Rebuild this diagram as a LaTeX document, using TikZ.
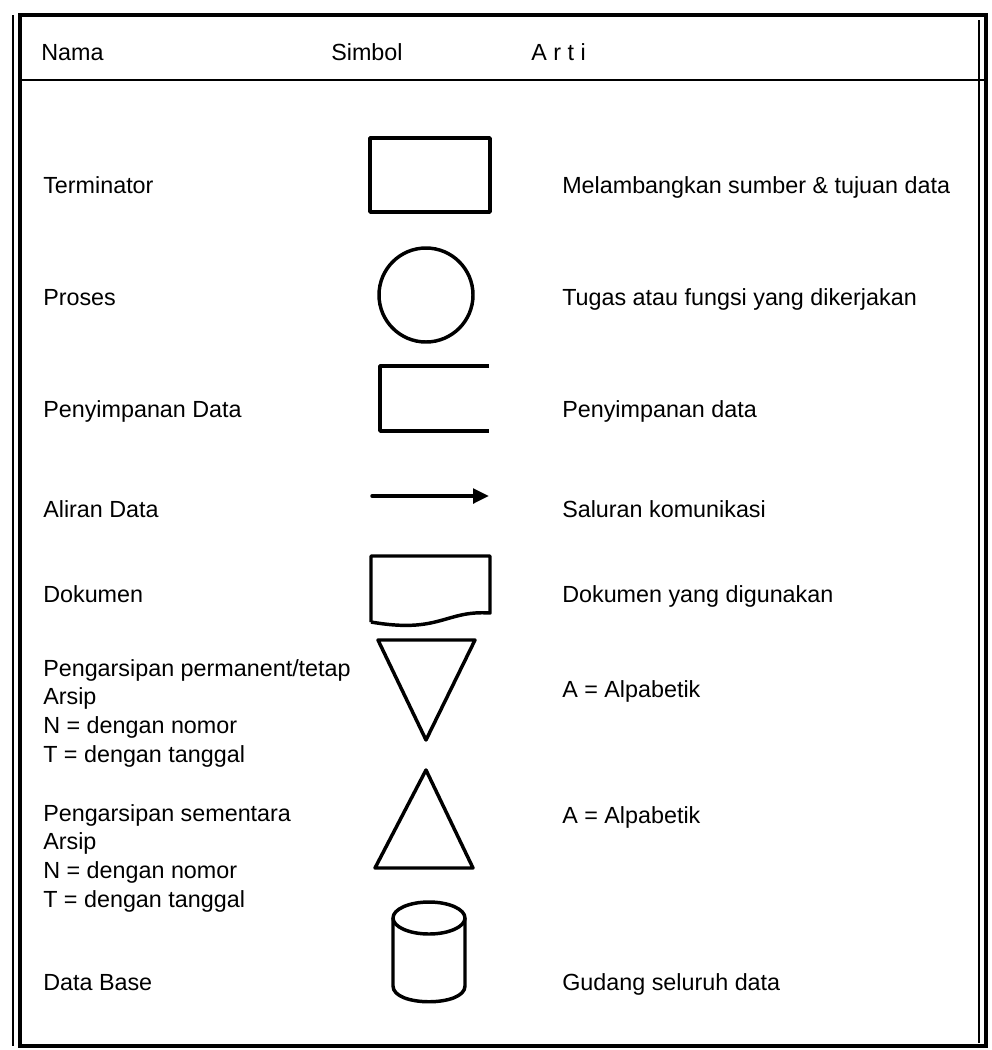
\documentclass[tikz,border=0pt]{standalone}
\usepackage{fontspec}
\setmainfont{Liberation Sans}
\usetikzlibrary{arrows.meta}

\tikzset{
  lbl/.style={anchor=base west,inner sep=0pt,font=\fontsize{17.5}{21.5}\selectfont,align=left},
  sym/.style={line width=2.6pt,line join=round},
}

\begin{document}
\begin{tikzpicture}[x=0.75pt,y=0.75pt,yscale=-1,xscale=1]
\useasboundingbox (0,0) rectangle (992,1050);

%Frame
\draw [line width=3pt] (20,15) rectangle (986,1046) ;
\draw [line width=0.8pt] (13,15) -- (13,1046) ;
\draw [line width=0.8pt] (979,20) -- (979,1043) ;
%Header line
\draw [line width=1.2pt] (20,80) -- (986,80) ;

% Text Node
\node [lbl] (nama) at (41,60) {Nama};
% Text Node
\node [lbl] (simbol) at (331,60) {Simbol};
% Text Node
\node [lbl] (arti) at (531,60) {A r t i};

%Shape: Rectangle [terminator]
\draw [sym] (370,138) rectangle (490,212) ;
% Text Node
\node [lbl] (term) at (43,193) {Terminator};
% Text Node
\node [lbl] (termArti) at (562,193) {Melambangkan sumber \& tujuan data};

%Shape: Circle [proses]
\draw [sym] (426,295) circle (47) ;
% Text Node
\node [lbl] (proses) at (43,305) {Proses};
% Text Node
\node [lbl] (prosesArti) at (562,305) {Tugas atau fungsi yang dikerjakan};

%Shape: Open rectangle [penyimpanan]
\draw [sym] (489,366) -- (380,366) -- (380,431) -- (489,431) ;
% Text Node
\node [lbl] (simpan) at (43,417) {Penyimpanan Data};
% Text Node
\node [lbl] (simpanArti) at (562,417) {Penyimpanan data};

%Straight Lines [aliran]
\coordinate (arrS) at (372,496);
\coordinate (arrE) at (489,496);
\draw [sym,line cap=round,-{Triangle[length=12pt,width=11pt]}] (arrS) -- (arrE) ;
% Text Node
\node [lbl] (aliran) at (43,517) {Aliran Data};
% Text Node
\node [lbl] (aliranArti) at (562,517) {Saluran komunikasi};

%Shape: Polygon Curved [dokumen]
\draw [sym] (371,622) -- (371,556) -- (490,556) -- (490,613) .. controls (445,610) and (440,634) .. (371,622) ;
% Text Node
\node [lbl] (dok) at (43,602) {Dokumen};
% Text Node
\node [lbl] (dokArti) at (562,602) {Dokumen yang digunakan};

%Shape: Triangle [arsip tetap]
\draw [sym] (378,640) -- (475,640) -- (426,740) -- cycle ;
% Text Node
\node [lbl] (tetap) at (43,762) {Pengarsipan permanent/tetap\\Arsip\\N = dengan nomor\\T = dengan tanggal};
% Text Node
\node [lbl] (tetapArti) at (562,697) {A = Alpabetik};

%Shape: Triangle [arsip sementara]
\draw [sym] (426,770) -- (473,868) -- (375,868) -- cycle ;
% Text Node
\node [lbl] (sementara) at (43,907) {Pengarsipan sementara\\Arsip\\N = dengan nomor\\T = dengan tanggal};
% Text Node
\node [lbl] (sementaraArti) at (562,823) {A = Alpabetik};

%Shape: Can [data base]
\draw [sym] (393,918) -- (393,986) .. controls (393,1007) and (465,1007) .. (465,986) -- (465,918) ;
\draw [sym] (429,918) ellipse (36 and 16) ;
% Text Node
\node [lbl] (db) at (43,990) {Data Base};
% Text Node
\node [lbl] (dbArti) at (562,990) {Gudang seluruh data};

\end{tikzpicture}
\end{document}
